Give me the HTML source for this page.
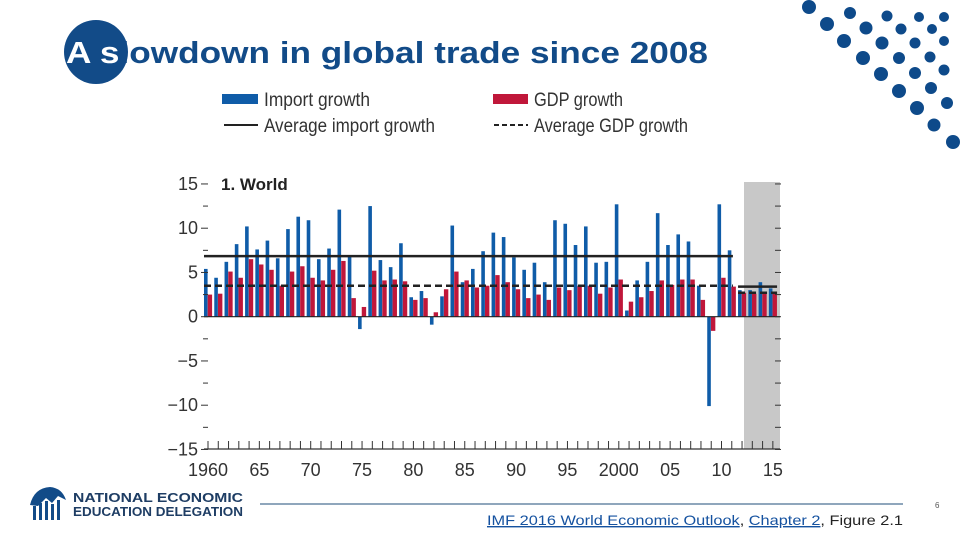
<!DOCTYPE html>
<html><head><meta charset="utf-8">
<style>
body{margin:0;background:#fff;width:960px;height:540px;overflow:hidden}
svg{display:block}
.n{font-family:"Liberation Sans Narrow","Liberation Sans",sans-serif}
</style></head><body>
<svg id="s" width="960" height="540" viewBox="0 0 960 540" xmlns="http://www.w3.org/2000/svg">
<g fill="#0e4a8a">
<circle cx="809" cy="7" r="7"/><circle cx="827" cy="24" r="7"/><circle cx="844" cy="41" r="7"/><circle cx="863" cy="58" r="7"/><circle cx="881" cy="74" r="7"/><circle cx="899" cy="91" r="7"/><circle cx="917" cy="108" r="7"/>
<circle cx="850" cy="13" r="6"/><circle cx="866" cy="28" r="6.5"/><circle cx="882" cy="43" r="6.5"/><circle cx="899" cy="58" r="6"/><circle cx="915" cy="73" r="6"/><circle cx="931" cy="88" r="6"/><circle cx="934" cy="125" r="6.5"/><circle cx="953" cy="142" r="7"/>
<circle cx="887" cy="16" r="5.5"/><circle cx="901" cy="29" r="5.5"/><circle cx="915" cy="43" r="5.5"/><circle cx="930" cy="57" r="5.5"/><circle cx="944" cy="70" r="5.5"/><circle cx="947" cy="103" r="6"/>
<circle cx="919" cy="17" r="5"/><circle cx="932" cy="29" r="5"/><circle cx="944" cy="17" r="5"/><circle cx="944" cy="41" r="5"/>
</g>
<circle cx="96" cy="52" r="32" fill="#124b88"/>
<text x="66" y="63" textLength="642" lengthAdjust="spacingAndGlyphs" font-family="Liberation Sans,sans-serif" font-weight="bold" font-size="31" fill="#124b88"><tspan fill="#fff">A s</tspan>lowdown in global trade since 2008</text>

<g class="n" font-size="19" fill="#333">
<rect x="222" y="94" width="36" height="10" fill="#0f5ca8"/>
<text x="264" y="106" textLength="106" lengthAdjust="spacingAndGlyphs">Import growth</text>
<rect x="493" y="94" width="35" height="10" fill="#c0173a"/>
<text x="534" y="106" textLength="89" lengthAdjust="spacingAndGlyphs">GDP growth</text>
<line x1="224" y1="125" x2="258" y2="125" stroke="#222" stroke-width="2"/>
<text x="264" y="132" textLength="171" lengthAdjust="spacingAndGlyphs">Average import growth</text>
<line x1="494" y1="125" x2="528" y2="125" stroke="#222" stroke-width="2" stroke-dasharray="5,3"/>
<text x="534" y="132" textLength="154" lengthAdjust="spacingAndGlyphs">Average GDP growth</text>
</g>

<rect x="744" y="182" width="36" height="267" fill="#c8c8c8"/>
<text x="221" y="190" class="n" font-weight="bold" font-size="17" fill="#222">1. World</text>
<g id="chart"></g>

<g>
<g fill="#124b88">
<path d="M30 505 Q34 488 50 487 Q62 488 66 500 L58 496 L52 503 L46 498 L38 506 Z"/>
<rect x="33" y="506" width="3" height="14"/><rect x="39" y="503" width="3" height="17"/><rect x="45" y="501" width="3" height="19"/><rect x="51" y="504" width="3" height="16"/><rect x="57" y="500" width="3" height="20"/>
</g>
<text x="73" y="502" font-family="Liberation Sans,sans-serif" font-weight="bold" font-size="13" fill="#1e3d64" textLength="170" lengthAdjust="spacingAndGlyphs">NATIONAL ECONOMIC</text>
<text x="73" y="516" font-family="Liberation Sans,sans-serif" font-weight="bold" font-size="13" fill="#1e3d64" textLength="170" lengthAdjust="spacingAndGlyphs">EDUCATION DELEGATION</text>
<line x1="260" y1="504" x2="903" y2="504" stroke="#1f4e79" stroke-width="1"/>
<text x="935" y="508" font-family="Liberation Sans,sans-serif" font-size="8" fill="#555">6</text>
<text x="487" y="525" font-family="Liberation Sans,sans-serif" font-size="14" fill="#222" textLength="416" lengthAdjust="spacingAndGlyphs"><tspan fill="#1552a0" text-decoration="underline">IMF 2016 World Economic Outlook</tspan>, <tspan fill="#1552a0" text-decoration="underline">Chapter 2</tspan>, Figure 2.1</text>
</g>
</svg>
<script>
const years = [];
for (let y = 1960; y <= 2015; y++) years.push(y);
const importGrowth = [5.4,4.4,6.2,8.2,10.2,7.6,8.6,6.6,9.9,11.3,10.9,6.5,7.7,12.1,6.9,-1.4,12.5,6.4,5.6,8.3,2.2,2.9,-0.9,2.3,10.3,3.9,5.4,7.4,9.5,9.0,6.7,5.3,6.1,3.9,10.9,10.5,8.1,10.2,6.1,6.2,12.7,0.7,4.1,6.2,11.7,8.1,9.3,8.5,3.5,-10.1,12.7,7.5,3.0,3.0,3.9,3.2];
const gdpGrowth = [2.5,2.6,5.1,4.4,6.5,5.9,5.3,3.5,5.1,5.7,4.4,4.1,5.3,6.3,2.1,1.1,5.2,4.1,4.2,4.0,1.9,2.1,0.5,3.1,5.1,4.1,3.3,3.5,4.7,3.9,3.1,2.1,2.5,1.9,3.3,3.0,3.5,3.5,2.6,3.3,4.2,1.7,2.2,2.9,4.1,3.6,4.2,4.2,1.9,-1.6,4.4,3.4,2.7,2.6,2.6,2.7];
const avgImport = [6.85, 3.4];   // 1960-2011, 2012-2015
const avgGdp = [3.5, 2.7];
const yTicks = [-15,-10,-5,0,5,10,15];
const xTickLabels = ["1960","65","70","75","80","85","90","95","2000","05","10","15"];

const NS = "http://www.w3.org/2000/svg";
const g = document.getElementById('chart');
const X0 = 204, STEP = 10.27;
function xs(year){ return X0 + (year - 1960) * STEP; }
function ys(v){ return 316.7 - v * 8.85; }
function mk(tag, attrs){ const e = document.createElementNS(NS, tag); for (const k in attrs) e.setAttribute(k, attrs[k]); g.appendChild(e); return e; }

years.forEach((yr, i) => {
  const gx = xs(yr);
  let v = importGrowth[i];
  const b = mk('rect', {x: gx, y: Math.min(ys(v), ys(0)), width: 3.6, height: Math.abs(ys(v) - ys(0)), fill: '#0f5ca8'});
  
  
  v = gdpGrowth[i];
  const r = mk('rect', {x: gx + 3.7, y: Math.min(ys(v), ys(0)), width: 4.4, height: Math.abs(ys(v) - ys(0)), fill: '#c0173a'});
  
  
});
// zero line
const z = mk('line', {x1: 204, x2: 780, y1: ys(0), y2: ys(0), stroke: '#222', 'stroke-width': 1.2});


// averages
const segs = [[1960, 2011.5], [2012, 2015.8]];
segs.forEach((s, k) => {
  const a = mk('line', {x1: xs(s[0]), x2: xs(s[1]), y1: ys(avgImport[k]), y2: ys(avgImport[k]), stroke: '#222', 'stroke-width': 2.5});
  
  
  const d = mk('line', {x1: xs(s[0]), x2: xs(s[1]), y1: ys(avgGdp[k]), y2: ys(avgGdp[k]), stroke: '#222', 'stroke-width': 2.5, 'stroke-dasharray': '7,4'});
  
  
});
// y axis ticks
for (let v = -15; v <= 15; v += 2.5) {
  const major = yTicks.indexOf(v) >= 0;
  const t = mk('line', {x1: major ? 201 : 203, x2: 208, y1: ys(v), y2: ys(v), stroke: '#333', 'stroke-width': 1});
  
  
  const t2 = mk('line', {x1: 775, x2: 781, y1: ys(v), y2: ys(v), stroke: '#333', 'stroke-width': 1});
  
  
}
yTicks.forEach(v => {
  const l = mk('text', {x: 198, y: ys(v) + 6, 'text-anchor': 'end', 'font-size': 18, fill: '#333', class: 'n'});
  l.textContent = v < 0 ? '\u2212' + Math.abs(v) : String(v);
  
  
});
// x axis
const ax = mk('line', {x1: 204, x2: 780, y1: 449, y2: 449, stroke: '#333', 'stroke-width': 1.2});


years.forEach(yr => {
  const t = mk('line', {x1: xs(yr) + 4, x2: xs(yr) + 4, y1: 441, y2: 449, stroke: '#333', 'stroke-width': 1});
  
  
});
xTickLabels.forEach((lab, i) => {
  const t = mk('text', {x: xs(1960 + i * 5) + 4, y: 476, 'text-anchor': 'middle', 'font-size': 18, fill: '#333', class: 'n'});
  t.textContent = lab;
  
  
});
</script>
</body></html>
